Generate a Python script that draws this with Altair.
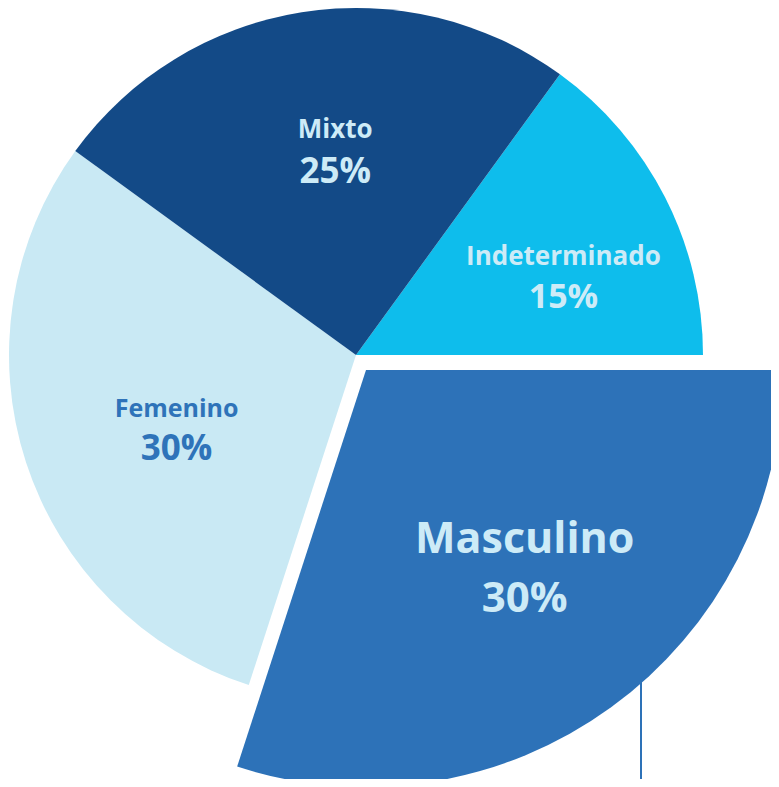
import altair as alt
import pandas as pd
import math

categories = ["Indeterminado", "Masculino", "Femenino", "Mixto"]
values = [15, 30, 30, 25]
pct_labels = ["15%", "30%", "30%", "25%"]
colors = ["#0EBDEC", "#2D72B8", "#C9E9F4", "#134A87"]

cum = []
s = 0
for v in values:
    cum.append(s)
    s += v
df = pd.DataFrame({
    "cat": categories,
    "value": values,
    "pct": pct_labels,
    "start": cum,
    "end": [c + v for c, v in zip(cum, values)],
})
df["mid"] = (df["start"] + df["end"]) / 2

FONT = "Open Sans"
LIGHT = "#CDEBF7"
theta_scale = alt.Scale(domain=[0, 100], range=[math.radians(36), math.radians(396)])
color_scale = alt.Scale(domain=categories, range=colors)

CX, CY, R = 348, 347, 347
MX, MY, MR = 358, 362, 417

base = alt.Chart(df)

pie = base.mark_arc(radius=R).encode(
    x=alt.value(CX), y=alt.value(CY),
    theta=alt.Theta("start:Q", scale=theta_scale),
    theta2="end:Q",
    color=alt.Color("cat:N", scale=color_scale, legend=None),
).transform_filter(alt.datum.cat != "Masculino")

rule = base.mark_rule(color="#2D72B8", strokeWidth=2).encode(
    x=alt.value(633), y=alt.value(660), y2=alt.value(800)
).transform_filter(alt.datum.cat == "Masculino")

masc = base.mark_arc(radius=MR).encode(
    x=alt.value(MX), y=alt.value(MY),
    theta=alt.Theta("start:Q", scale=theta_scale),
    theta2="end:Q",
    color=alt.Color("cat:N", scale=color_scale, legend=None),
).transform_filter(alt.datum.cat == "Masculino")

# label settings: cat -> (center, radius, dx, dy, half-gap, name size, pct size, color)
label_cfg = {
    "Mixto": ((CX, CY), 197, 10, 0, 22.5, 26, 35, LIGHT),
    "Indeterminado": ((CX, CY), 216, 15, 30, 21.5, 26, 34, LIGHT),
    "Femenino": ((CX, CY), 196, 7, 23, 21.5, 25, 35, "#2E73B9"),
    "Masculino": ((MX, MY), 265, 3, -2, 29.5, 43, 42, LIGHT),
}

texts = []
for cat, (ctr, r, dx, dy, gap, s1, s2, col) in label_cfg.items():
    for field, size, off in (("cat", s1, -gap), ("pct", s2, gap)):
        t = base.mark_text(
            font=FONT, fontWeight="bold", fontSize=size, color=col,
            align="center", baseline="alphabetic", dx=dx, dy=dy + off,
        ).encode(
            x=alt.value(ctr[0]), y=alt.value(ctr[1]),
            theta=alt.Theta("mid:Q", scale=theta_scale),
            radius=alt.value(r),
            text=f"{field}:N",
        ).transform_filter(alt.datum.cat == cat)
        texts.append(t)

chart = alt.layer(pie, rule, masc, *texts).properties(
    width=763, height=771, padding=0, autosize=alt.AutoSizeParams(type="none"),
    background="white",
).configure_view(stroke=None)

chart.save("out.html", embed_options={"renderer": "svg", "actions": False})
